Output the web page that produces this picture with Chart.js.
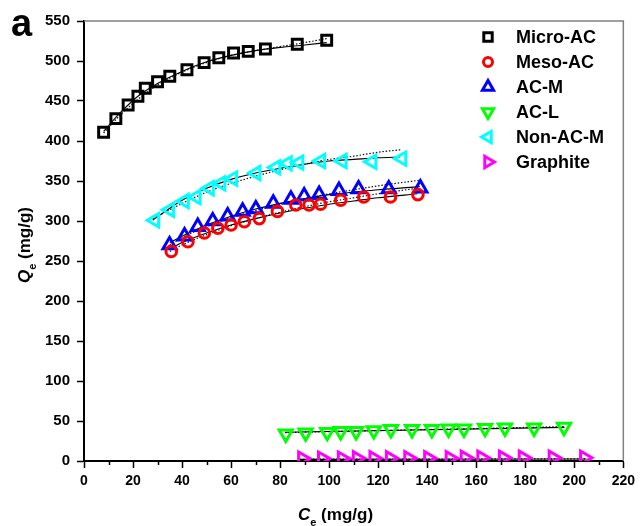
<!DOCTYPE html>
<html>
<head>
<meta charset="utf-8">
<script src="https://cdn.jsdelivr.net/npm/chart.js@4/dist/chart.umd.min.js"></script>
<style>
html,body{margin:0;padding:0;background:#fff;}
#wrap{width:640px;height:526px;position:relative;}
</style>
</head>
<body>
<div id="wrap"><canvas id="c" width="640" height="526"></canvas></div>
<script>
// ---- data ----
const seriesNames = ['Micro-AC','Meso-AC','AC-M','AC-L','Non-AC-M','Graphite'];
const xTickLabels = [0,20,40,60,80,100,120,140,160,180,200,220];
const yTickLabels = [0,50,100,150,200,250,300,350,400,450,500,550];

const microX = [8,13,18,22,25,30,35,42,49,55,61,67,74,87,99];
const microY = [411,428,445,456,466,474,481,489,498,504,510,512,515,521,526];
const mesoX  = [35.6,42.4,49.1,54.6,60,65.4,71.5,78.9,86.4,91.8,96.5,104.7,114.1,125,136.2];
const mesoY  = [262,274,285,291,295,299,303,312,320,320,321,326,330,330,333];
const acmX   = [34.9,41,46.4,52.5,58.6,64.7,70.1,77.2,84.4,89.8,95.9,104,112,124.3,137.2];
const acmY   = [270,281,293,300,306,312,315,322,327,331,333,338,340,340,341];
const aclX   = [82.3,90.4,99.2,104.7,111,118.2,125.2,133.8,141.9,148.7,155,163.6,171.7,183.6,195.8];
const aclY   = [34,35.3,36,37,37,38.2,39.5,39.5,39.5,40.2,40.2,41,41.5,41.5,42.3];
const nonX   = [28.9,35,41,45.8,51.2,55.9,60.7,70.2,78.3,83,87.7,96.6,105.4,117.5,129.7];
const nonY   = [301,314,325,330,341,347,353,360,367,372,373,375,375,374,378];
const graX   = [89.1,97.2,105.3,111.4,118.2,124.9,132.4,140.5,149.3,155.4,162.2,171,179.1,191.3,204.1];
const graY   = [3,3,3,3.5,3.5,3.5,3.5,3.5,3.5,4,4,4,4,4,4];

// fitted curves (solid = fit 1, dotted = fit 2)
const microFitX   = [8,15,22,30,40,50,60,70,80,90,99];
const microFitY   = [412,436,456,472,487,499,507,513,517,520,523];
const microFit2Y  = [410,433,452,470,486,498,507,513,518,523,528];
const mesoFitX    = [35,40,50,60,70,80,90,100,110,120,136];
const mesoFitY    = [265,273,285,295,303,310,316,321,325,329,334];
const mesoFit2Y   = [262,270,283,294,303,311,318,324,329,334,341];
const acmFitX     = [35,40,50,60,70,80,90,100,110,120,137];
const acmFitY     = [273,281,295,306,315,322,328,333,336,339,343];
const acmFit2Y    = [270,279,293,304,313,321,328,334,339,344,351];
const aclFitX     = [82,196];
const aclFitY     = [36,42];
const aclFit2Y    = [35.5,43];
const nonFitX     = [28,35,40,50,60,70,80,90,100,110,120,129];
const nonFitY     = [301,316,326,341,352,360,366,371,375,377,379,380];
const nonFit2Y    = [303,314,322,336,347,356,364,371,377,381,386,389];
const graFitX     = [88,205];
const graFitY     = [2,2.5];
const graFit2Y    = [2.2,2.7];

// ---- build ----
const pts = (xs, ys) => xs.map((x, i) => ({x, y: ys[i]}));
const FONT = 'Arial, "Liberation Sans", sans-serif';

const markerDefs = [
  {name: seriesNames[0], xs: microX, ys: microY, color: '#000000', style: 'rect', rot: 0, r: 7},
  {name: seriesNames[1], xs: mesoX, ys: mesoY, color: '#ff0000', style: 'circle', rot: 0, r: 5.3},
  {name: seriesNames[2], xs: acmX, ys: acmY, color: '#0000ff', style: 'triangle', rot: 0, r: 7.6},
  {name: seriesNames[3], xs: aclX, ys: aclY, color: '#00ff00', style: 'triangle', rot: 180, r: 7.6},
  {name: seriesNames[4], xs: nonX, ys: nonY, color: '#00ffff', style: 'triangle', rot: -90, r: 7.6},
  {name: seriesNames[5], xs: graX, ys: graY, color: '#ff00ff', style: 'triangle', rot: 90, r: 7.6}
];

const fitDefs = [
  [microFitX, microFitY, microFit2Y],
  [mesoFitX, mesoFitY, mesoFit2Y],
  [acmFitX, acmFitY, acmFit2Y],
  [aclFitX, aclFitY, aclFit2Y],
  [nonFitX, nonFitY, nonFit2Y],
  [graFitX, graFitY, graFit2Y]
];

const datasets = [];
markerDefs.forEach(m => {
  datasets.push({
    type: 'scatter', label: m.name, data: pts(m.xs, m.ys), showLine: false,
    pointStyle: m.style, pointRotation: m.rot, pointRadius: m.r, pointHoverRadius: m.r,
    pointBorderWidth: 3, pointBorderColor: m.color, pointBackgroundColor: 'rgba(0,0,0,0)',
    order: 0
  });
});
fitDefs.forEach(f => {
  datasets.push({
    type: 'line', label: '', data: pts(f[0], f[1]), borderColor: '#000', borderWidth: 1.1,
    pointRadius: 0, fill: false, tension: 0.4, cubicInterpolationMode: 'monotone', order: 1
  });
  datasets.push({
    type: 'line', label: '', data: pts(f[0], f[2]), borderColor: '#111', borderWidth: 1.2,
    borderDash: [1.5, 1.8], pointRadius: 0, fill: false, tension: 0.4, cubicInterpolationMode: 'monotone', order: 1
  });
});

function drawMarker(ctx, style, rotDeg, r, x, y) {
  ctx.beginPath();
  if (style === 'rect') {
    const s = Math.SQRT1_2 * r;
    ctx.rect(x - s, y - s, 2 * s, 2 * s);
  } else if (style === 'circle') {
    ctx.arc(x, y, r, 0, Math.PI * 2);
  } else {
    let rad = rotDeg * Math.PI / 180;
    ctx.moveTo(x + Math.sin(rad) * r, y - Math.cos(rad) * r);
    rad += 2 * Math.PI / 3;
    ctx.lineTo(x + Math.sin(rad) * r, y - Math.cos(rad) * r);
    rad += 2 * Math.PI / 3;
    ctx.lineTo(x + Math.sin(rad) * r, y - Math.cos(rad) * r);
    ctx.closePath();
  }
  ctx.stroke();
}

const decor = {
  id: 'decor',
  afterDraw(chart) {
    const ctx = chart.ctx;
    const a = chart.chartArea;
    const xs = chart.scales.x;
    ctx.save();
    // frame top and right
    ctx.strokeStyle = '#808080';
    ctx.lineWidth = 1.5;
    ctx.beginPath();
    ctx.moveTo(a.left, a.top);
    ctx.lineTo(a.right, a.top);
    ctx.lineTo(a.right, a.bottom);
    ctx.stroke();
    // minor x ticks
    ctx.strokeStyle = '#000';
    ctx.lineWidth = 1.5;
    for (let v = 10; v < 220; v += 20) {
      const px = Math.round(xs.getPixelForValue(v)) + 0.5;
      ctx.beginPath();
      ctx.moveTo(px, a.bottom);
      ctx.lineTo(px, a.bottom + 4);
      ctx.stroke();
    }
    // legend
    const lx = 488, ltx = 516, ly0 = 37, ldy = 25;
    markerDefs.forEach((m, i) => {
      const y = ly0 + i * ldy;
      ctx.strokeStyle = m.color;
      ctx.lineWidth = 3;
      ctx.lineJoin = 'miter';
      drawMarker(ctx, m.style, m.rot, m.r * 0.85, lx, y);
      ctx.fillStyle = '#000';
      ctx.font = 'bold 18px ' + FONT;
      ctx.textBaseline = 'middle';
      ctx.textAlign = 'left';
      ctx.fillText(m.name, ltx, y + 1);
    });
    // panel letter
    ctx.fillStyle = '#000';
    ctx.textBaseline = 'alphabetic';
    ctx.font = 'bold 38px ' + FONT;
    ctx.fillText('a', 11, 36);
    // x title
    let x = 298, by = 520;
    ctx.font = 'italic bold 17px ' + FONT;
    ctx.fillText('C', x, by);
    x += ctx.measureText('C').width;
    ctx.font = 'bold 11px ' + FONT;
    ctx.fillText('e', x, by + 6);
    x += ctx.measureText('e').width;
    ctx.font = 'bold 17px ' + FONT;
    ctx.fillText(' (mg/g)', x, by);
    // y title
    ctx.translate(30, 283);
    ctx.rotate(-Math.PI / 2);
    let t = 0;
    ctx.font = 'italic bold 17px ' + FONT;
    ctx.fillText('Q', t, 0);
    t += ctx.measureText('Q').width;
    ctx.font = 'bold 11px ' + FONT;
    ctx.fillText('e', t, 6);
    t += ctx.measureText('e').width;
    ctx.font = 'bold 17px ' + FONT;
    ctx.fillText(' (mg/g)', t, 0);
    ctx.restore();
  }
};

new Chart(document.getElementById('c'), {
  data: {datasets},
  options: {
    responsive: false,
    animation: false,
    devicePixelRatio: 1,
    layout: {padding: {left: 0, top: 21, right: 14, bottom: 0}},
    plugins: {legend: {display: false}, tooltip: {enabled: false}},
    scales: {
      x: {
        type: 'linear', min: 0, max: 220,
        afterFit: s => { s.height = 65; },
        ticks: {
          stepSize: 10, autoSkip: false, maxRotation: 0, padding: 5, color: '#000',
          font: {family: FONT, size: 14, weight: 'bold'},
          callback: v => (xTickLabels.includes(v) ? String(v) : '')
        },
        grid: {
          drawOnChartArea: false, tickLength: 7, tickWidth: 1.5,
          tickColor: c => (c.tick && xTickLabels.includes(c.tick.value) ? '#000' : 'rgba(0,0,0,0)')
        },
        border: {color: '#000', width: 2}
      },
      y: {
        type: 'linear', min: 0, max: 550,
        afterFit: s => { s.width = 84; },
        ticks: {
          stepSize: 50, autoSkip: false, padding: 7, color: '#000',
          font: {family: FONT, size: 15, weight: 'bold'},
          callback: v => (yTickLabels.includes(v) ? String(v) : '')
        },
        grid: {drawOnChartArea: false, tickLength: 7, tickWidth: 1.5, tickColor: '#000'},
        border: {color: '#000', width: 2}
      }
    }
  },
  plugins: [decor]
});
</script>
</body>
</html>
